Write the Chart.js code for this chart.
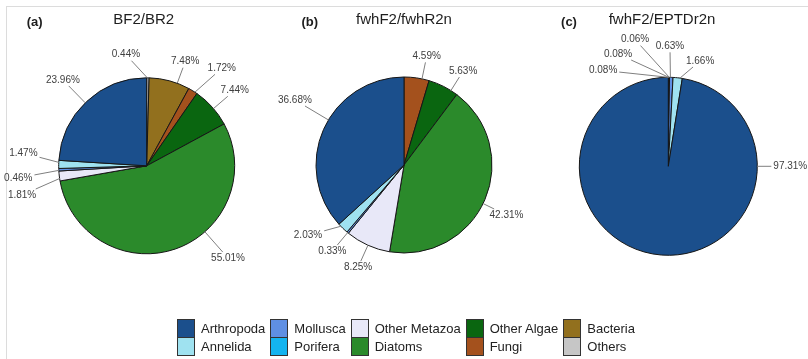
<!DOCTYPE html>
<html>
<head>
<meta charset="utf-8">
<script src="https://cdn.jsdelivr.net/npm/chart.js@4.4.1/dist/chart.umd.min.js"></script>
<style>
  html, body { margin: 0; padding: 0; background: #fff; }
  #fig { position: relative; width: 808px; height: 359px; overflow: hidden;
         font-family: "Liberation Sans", Arial, sans-serif; }
  #fig canvas { position: absolute; left: 0; top: 0; }
  .frame { position: absolute; left: 6px; top: 6px; width: 900px; height: 400px;
           border-left: 1px solid #dcdcdc; border-top: 1px solid #dcdcdc; }
  .title { position: absolute; top: 11px; font-size: 15px; line-height: 15px; color: #1e1e1e;
           white-space: nowrap; transform: translateX(-50%); }
  .tag { position: absolute; top: 15px; font-size: 13px; line-height: 13px; font-weight: bold;
         color: #1e1e1e; transform: translateX(-50%); }
  #legend { position: absolute; left: 177px; top: 319px; display: flex; gap: 5px;
            font-size: 13px; color: #222; }
  .col { display: flex; }
  .sw { display: flex; flex-direction: column; }
  .sw div { box-sizing: border-box; width: 18px; height: 19px; border: 1px solid #333; }
  .sw div + div { margin-top: -1px; height: 19px; }
  .names { margin-left: 6px; }
  .names div { height: 18px; line-height: 19px; white-space: nowrap; }
</style>
</head>
<body>
<div id="fig">
  <div class="frame"></div>
</div>
<script>
// Taxonomic groups, in legend order
const categories = ['Arthropoda', 'Annelida', 'Mollusca', 'Porifera', 'Other Metazoa',
                    'Diatoms', 'Other Algae', 'Fungi', 'Bacteria', 'Others'];

// Relative read abundance (%) per primer pair, same order as categories
const bf2Values    = [23.96, 1.47, 0.46, 0, 1.81, 55.01, 7.44, 1.72, 7.48, 0.44];
const fwhR2nValues = [36.68, 2.03, 0.33, 0, 8.25, 42.31, 5.63, 4.59, 0, 0];
const eptdValues   = [97.31, 1.66, 0.63, 0, 0.06, 0.08, 0.08, 0, 0, 0];

const pieTitles = ['BF2/BR2', 'fwhF2/fwhR2n', 'fwhF2/EPTDr2n'];
const panelTags = ['(a)', '(b)', '(c)'];

// Fill colour per group
const palette = ['#1b4f8c', '#9fe2f0', '#5f8fe3', '#14b4f0', '#e8e8f8',
                 '#2b8a2b', '#0a6610', '#a4511d', '#92701e', '#c6c6c6'];

// Panel geometry and label placement: [bearing clockwise from 12 o'clock (deg), distance from centre (px)]
const panels = [
  { values: bf2Values, cx: 146.7, cy: 165.8, r: 88, titleX: 143.7, tagX: 34.7,
    labels: { 0: [315.7, 120], 1: [275.9, 124], 2: [264.6, 129], 4: [256.8, 128],
              5: [138.6, 123], 6: [49.4, 116], 7: [37.6, 123], 8: [20.3, 111], 9: [349.4, 113] } },
  { values: fwhR2nValues, cx: 404, cy: 165, r: 88, titleX: 404, tagX: 309.7,
    labels: { 0: [300.8, 127], 1: [233.8, 119], 2: [219.8, 112], 4: [204.2, 112],
              5: [116.0, 114], 6: [32.2, 111], 7: [11.8, 111] } },
  { values: eptdValues, cx: 668.3, cy: 166.3, r: 89, titleX: 662, tagX: 569,
    labels: { 0: [90, 122], 1: [16.8, 110], 2: [0.8, 120], 4: [345.3, 131],
              5: [335.9, 123], 6: [325.8, 116] } }
];

const W = 808, H = 359;
const fig = document.getElementById('fig');

// Percentage labels with leader lines running from the slice edge to the text
function leaderPlugin(panel, catIdx) {
  return {
    id: 'leaderLabels',
    afterDatasetsDraw(chart) {
      const ctx = chart.ctx;
      const meta = chart.getDatasetMeta(0);
      const data = chart.data.datasets[0].data;
      ctx.save();
      ctx.font = '10px "Liberation Sans", Arial, sans-serif';
      ctx.textAlign = 'center';
      ctx.textBaseline = 'middle';
      meta.data.forEach((arc, i) => {
        const place = panel.labels[catIdx[i]];
        if (!place) return;
        const p = arc.getProps(['x', 'y', 'startAngle', 'endAngle', 'outerRadius'], true);
        const alpha = (place[0] - 90) * Math.PI / 180;
        const tx = p.x + place[1] * Math.cos(alpha);
        const ty = p.y + place[1] * Math.sin(alpha);
        const mid = (p.startAngle + p.endAngle) / 2;
        const half = (p.endAngle - p.startAngle) / 2;
        let diff = alpha - mid;
        while (diff > Math.PI) diff -= 2 * Math.PI;
        while (diff < -Math.PI) diff += 2 * Math.PI;
        const lim = half > 0.1 ? half - 0.05 : half * 0.5;
        diff = Math.max(-lim, Math.min(lim, diff));
        const beta = mid + diff;
        const px = p.x + p.outerRadius * Math.cos(beta);
        const py = p.y + p.outerRadius * Math.sin(beta);
        const text = data[i].toFixed(2) + '%';
        const w = ctx.measureText(text).width;
        const bx0 = tx - w / 2 - 2, bx1 = tx + w / 2 + 2, by0 = ty - 6, by1 = ty + 6;
        const dx = tx - px, dy = ty - py;
        let t = 0;
        if (px < bx0) t = Math.max(t, (bx0 - px) / dx); else if (px > bx1) t = Math.max(t, (bx1 - px) / dx);
        if (py < by0) t = Math.max(t, (by0 - py) / dy); else if (py > by1) t = Math.max(t, (by1 - py) / dy);
        ctx.strokeStyle = '#7f7f7f';
        ctx.lineWidth = 1;
        ctx.beginPath();
        ctx.moveTo(px, py);
        ctx.lineTo(px + t * dx, py + t * dy);
        ctx.stroke();
        ctx.fillStyle = '#404040';
        ctx.fillText(text, tx, ty);
      });
      ctx.restore();
    }
  };
}

panels.forEach((panel, k) => {
  // groups present in this sample; drawn clockwise in reverse so the legend order runs anticlockwise from 12 o'clock
  const catIdx = categories.map((_, i) => i).filter(i => panel.values[i] > 0).reverse();

  const canvas = document.createElement('canvas');
  canvas.width = W; canvas.height = H;
  fig.appendChild(canvas);

  new Chart(canvas, {
    type: 'pie',
    data: {
      labels: catIdx.map(i => categories[i]),
      datasets: [{
        data: catIdx.map(i => panel.values[i]),
        backgroundColor: catIdx.map(i => palette[i]),
        borderColor: '#161616',
        borderWidth: 1,
        hoverBorderWidth: 1,
        offset: 0,
        hoverOffset: 0,
        radius: panel.r
      }]
    },
    options: {
      responsive: false,
      animation: false,
      events: [],
      radius: panel.r,
      layout: { padding: { left: panel.cx - 100, right: W - panel.cx - 100,
                           top: panel.cy - 100, bottom: H - panel.cy - 100 } },
      plugins: { legend: { display: false }, tooltip: { enabled: false } }
    },
    plugins: [leaderPlugin(panel, catIdx)]
  });

  const title = document.createElement('div');
  title.className = 'title';
  title.style.left = panel.titleX + 'px';
  title.textContent = pieTitles[k];
  fig.appendChild(title);

  const tag = document.createElement('div');
  tag.className = 'tag';
  tag.style.left = panel.tagX + 'px';
  tag.textContent = panelTags[k];
  fig.appendChild(tag);
});

// Legend: two groups per column
const legend = document.createElement('div');
legend.id = 'legend';
for (let c = 0; c < categories.length; c += 2) {
  const col = document.createElement('div');
  col.className = 'col';
  const sw = document.createElement('div');
  sw.className = 'sw';
  const names = document.createElement('div');
  names.className = 'names';
  [c, c + 1].forEach(i => {
    const box = document.createElement('div');
    box.style.background = palette[i];
    sw.appendChild(box);
    const nm = document.createElement('div');
    nm.textContent = categories[i];
    names.appendChild(nm);
  });
  col.appendChild(sw);
  col.appendChild(names);
  legend.appendChild(col);
}
fig.appendChild(legend);
</script>
</body>
</html>
